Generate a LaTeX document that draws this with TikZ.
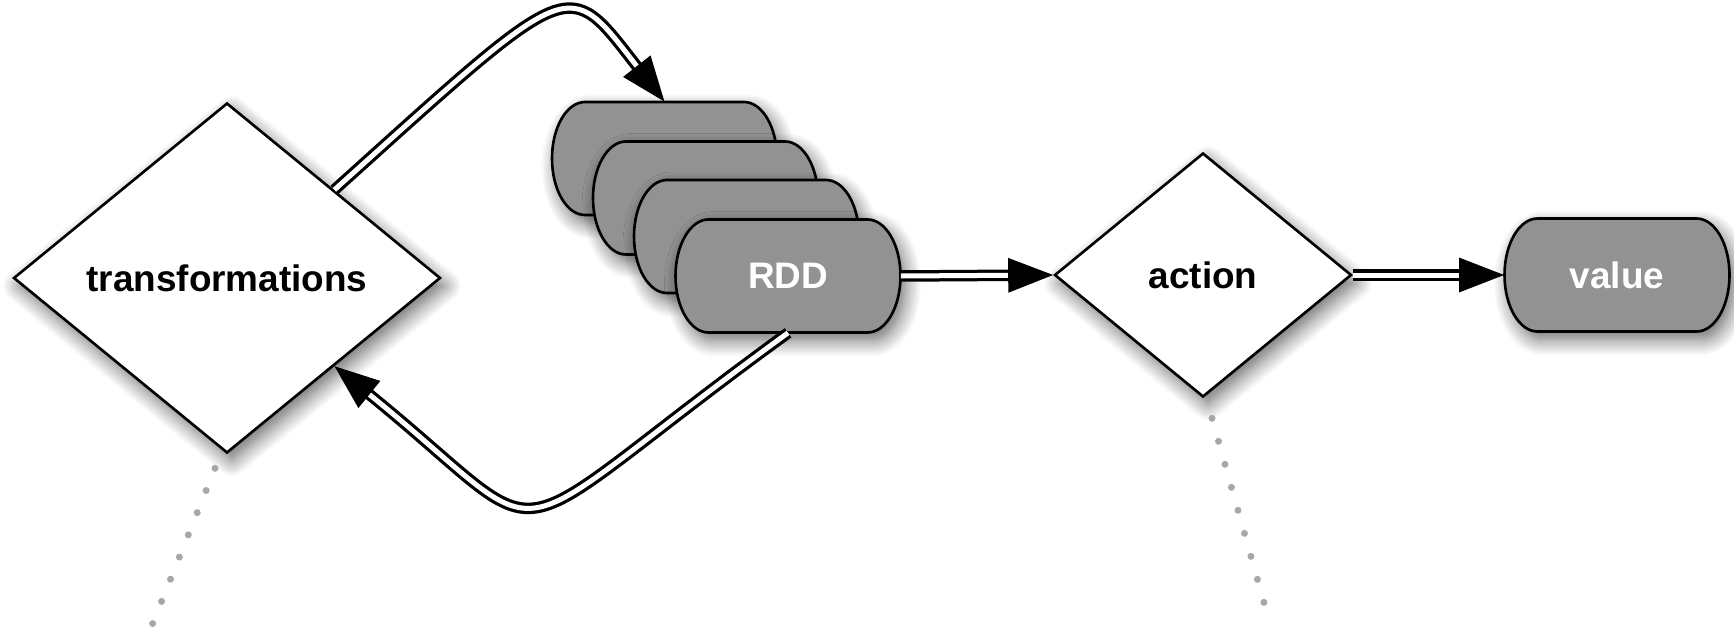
\documentclass[tikz,border=0pt]{standalone}
\usepackage{fontspec}
\setmainfont{Liberation Sans}
\usetikzlibrary{shapes.geometric, arrows.meta, shadows.blur}

\definecolor{pillgray}{RGB}{146,146,146}
\definecolor{dotgray}{RGB}{166,168,168}

\tikzset{
  sombra/.style={blur shadow={shadow xshift=0.1cm, shadow yshift=-0.16cm,
      shadow blur radius=0.32cm, shadow blur steps=12, shadow opacity=60}},
  rombo/.style={diamond, draw, fill=white, line width=1.5pt, inner sep=0pt,
      font=\bfseries\fontsize{21}{25}\selectfont, sombra},
  pastilla/.style={draw, fill=pillgray, line width=1.5pt, sombra},
  hueco/.style={rectangle, inner sep=0pt, minimum width=4.5cm, minimum height=2.26cm,
      text=white, font=\bfseries\fontsize{21}{25}\selectfont},
  flujo/.style={color=black, line width=0.065cm, double=white, double distance=0.1cm,
      -{Triangle[length=0.9cm,width=0.68cm,fill=black]}},
  puntos/.style={dotgray, line width=0.14cm, line cap=round,
      dash pattern=on 0pt off 0.478cm}
}

\begin{document}
\begin{tikzpicture}
        \useasboundingbox (0,0) rectangle (34.68,-12.56);

        % Rombo de transformaciones
        \node[rombo, minimum width=8.54cm, minimum height=7cm] (trans) at (4.54,-5.56) {transformations};

        % Contornos de las pastillas (de atras hacia delante)
        \foreach \x/\y in {13.29/-3.17, 14.11/-3.96, 14.93/-4.73, 15.76/-5.52, 32.34/-5.5}
          \draw[pastilla] (\x-1.59,\y+1.13) -- (\x+1.59,\y+1.13)
            arc[start angle=90, end angle=-90, x radius=0.66, y radius=1.13]
            -- (\x-1.59,\y-1.13)
            arc[start angle=270, end angle=90, x radius=0.66, y radius=1.13] -- cycle;

        % Pila de RDD
        \node[hueco] (pila1) at (13.29,-3.17) {};
        \node[hueco] (pila2) at (14.11,-3.96) {};
        \node[hueco] (pila3) at (14.93,-4.73) {};
        \node[hueco] (rdd) at (15.76,-5.52) {RDD};

        % Accion y valor
        \node[rombo, minimum width=5.94cm, minimum height=4.88cm] (action) at (24.06,-5.5) {action};
        \node[hueco] (value) at (32.34,-5.5) {value};

        % Flechas dobles
        \draw[flujo] (trans.north east) .. controls +(42:6.5) and +(128:3.2) .. (pila1.north);
        \draw[flujo] (rdd.south) .. controls +(216:7.6) and +(-39:6.0) .. (trans.south east);
        \draw[flujo] (rdd.east) -- (action.west);
        \draw[flujo] (action.east) -- (value.west);

        % Lineas de puntos
        \coordinate (transfin) at (3.05,-12.48);
        \coordinate (actionfin) at (25.40,-12.48);
        \draw[puntos] ([shift={(-0.24,-0.28)}]trans.south) -- (transfin);
        \draw[puntos] ([shift={(0.18,-0.40)}]action.south) -- (actionfin);
    \end{tikzpicture}
\end{document}
